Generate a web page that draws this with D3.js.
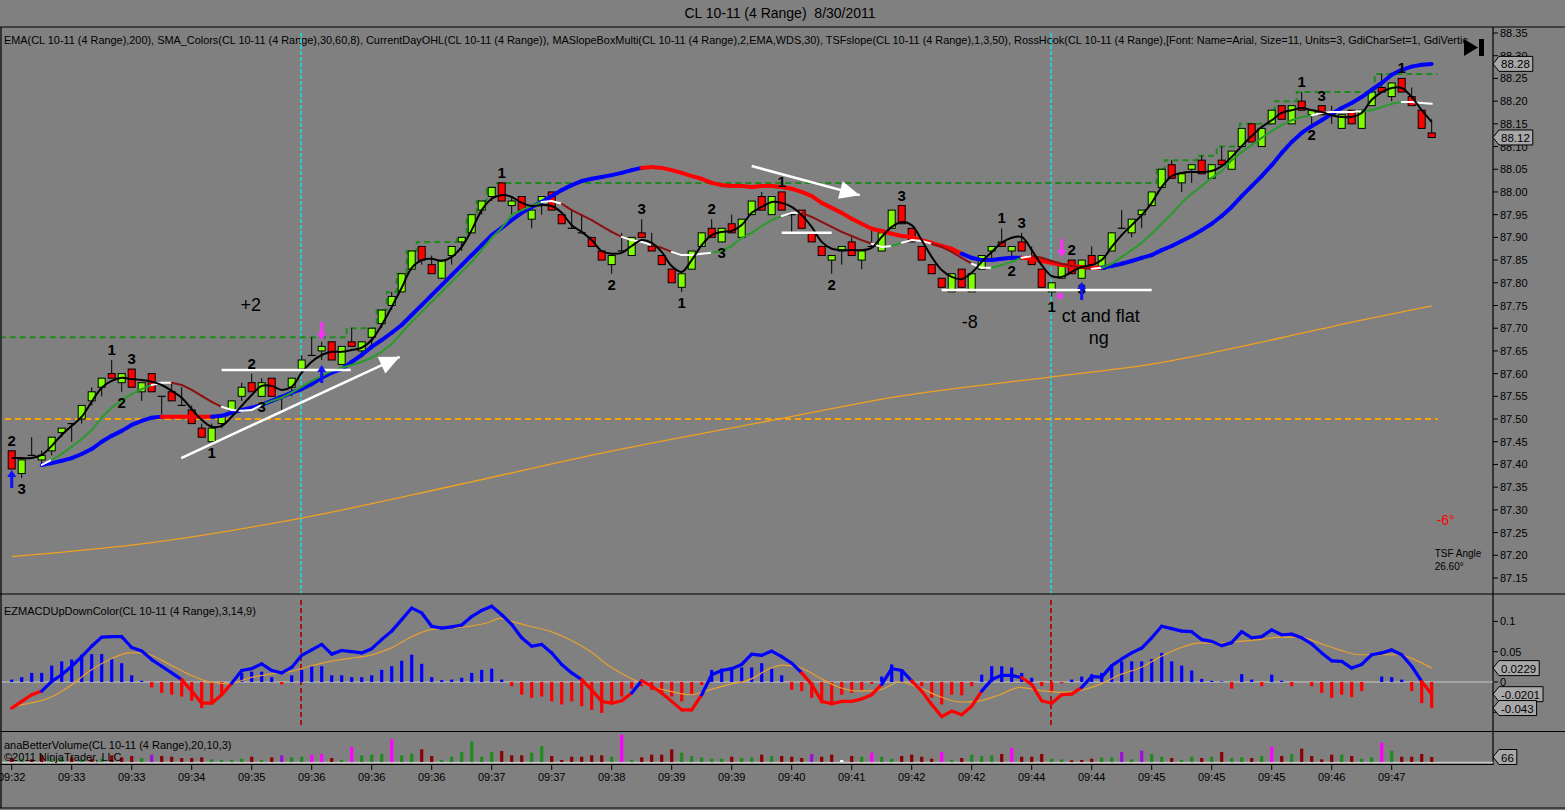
<!DOCTYPE html>
<html><head><meta charset="utf-8">
<script src="https://cdn.jsdelivr.net/npm/d3@7"></script>
<style>
body{margin:0;background:#808080;overflow:hidden}
svg{display:block}
text{font-family:"Liberation Sans",Arial,sans-serif}
</style></head>
<body><svg id="c" width="1565" height="810"></svg>
<script>
// ---------------- DATA ----------------
const open=[87.43,87.38,87.42,87.41,87.43,87.47,87.49,87.50,87.54,87.57,
87.60,87.58,87.61,87.56,87.60,87.55,87.56,87.53,87.52,87.48,
87.45,87.49,87.52,87.55,87.58,87.55,87.59,87.55,87.57,87.61,
87.64,87.65,87.67,87.62,87.67,87.65,87.68,87.71,87.75,87.78,
87.83,87.88,87.84,87.81,87.86,87.89,87.91,87.96,87.99,88.02,
87.97,87.99,87.94,87.98,88.00,87.95,87.92,87.91,87.90,87.87,
87.84,87.87,87.86,87.91,87.88,87.86,87.83,87.79,87.83,87.88,
87.92,87.89,87.93,87.90,87.95,87.99,87.95,88.00,87.95,87.96,
87.91,87.88,87.85,87.87,87.89,87.85,87.88,87.87,87.92,87.97,
87.92,87.88,87.84,87.81,87.78,87.83,87.78,87.83,87.87,87.89,
87.87,87.89,87.86,87.83,87.78,87.81,87.85,87.81,87.86,87.83,
87.87,87.92,87.91,87.95,87.97,88.01,88.06,88.02,88.05,88.07,
88.03,88.07,88.05,88.10,88.15,88.10,88.15,88.19,88.15,88.20,
88.17,88.19,88.17,88.14,88.18,88.14,88.19,88.23,88.21,88.25,
88.21,88.18,88.13];
const close=[87.39,87.41,87.42,87.42,87.46,87.48,87.49,87.53,87.56,87.59,
87.59,87.60,87.57,87.58,87.56,87.55,87.54,87.53,87.49,87.46,
87.48,87.51,87.54,87.57,87.56,87.58,87.55,87.55,87.59,87.63,
87.64,87.66,87.63,87.66,87.66,87.67,87.70,87.74,87.77,87.82,
87.87,87.85,87.82,87.85,87.88,87.90,87.95,87.98,88.01,87.98,
87.98,87.96,87.96,87.99,87.96,87.93,87.92,87.91,87.88,87.85,
87.86,87.87,87.90,87.90,87.87,87.84,87.80,87.82,87.87,87.91,
87.90,87.92,87.91,87.94,87.98,87.96,87.99,87.96,87.95,87.92,
87.89,87.86,87.86,87.88,87.86,87.87,87.88,87.91,87.96,87.93,
87.89,87.85,87.82,87.79,87.82,87.79,87.82,87.86,87.88,87.88,
87.88,87.87,87.84,87.79,87.80,87.84,87.82,87.85,87.84,87.86,
87.91,87.92,87.94,87.96,88.00,88.05,88.03,88.04,88.06,88.04,
88.06,88.06,88.09,88.14,88.11,88.14,88.18,88.16,88.19,88.18,
88.18,88.17,88.17,88.17,88.15,88.18,88.22,88.22,88.24,88.22,
88.19,88.14,88.12];
const high=[87.43,87.41,87.46,87.43,87.46,87.48,87.49,87.53,87.57,87.59,
87.63,87.60,87.61,87.58,87.60,87.55,87.58,87.57,87.53,87.49,
87.49,87.51,87.54,87.58,87.60,87.59,87.59,87.55,87.59,87.64,
87.68,87.67,87.67,87.66,87.70,87.67,87.70,87.74,87.78,87.82,
87.87,87.88,87.86,87.85,87.88,87.90,87.95,87.98,88.01,88.02,
87.99,87.99,87.96,87.99,88.00,87.95,87.96,87.95,87.90,87.87,
87.86,87.91,87.90,87.94,87.91,87.86,87.83,87.82,87.87,87.91,
87.94,87.92,87.95,87.94,87.98,88.00,87.99,88.00,87.95,87.96,
87.91,87.88,87.86,87.88,87.90,87.87,87.92,87.91,87.96,87.97,
87.92,87.88,87.84,87.81,87.82,87.83,87.82,87.86,87.88,87.92,
87.88,87.91,87.88,87.83,87.80,87.84,87.85,87.85,87.88,87.86,
87.91,87.96,87.94,87.96,88.00,88.05,88.07,88.04,88.06,88.08,
88.06,88.10,88.09,88.14,88.15,88.14,88.18,88.19,88.19,88.22,
88.18,88.19,88.19,88.17,88.18,88.18,88.22,88.26,88.24,88.25,
88.23,88.18,88.16];
const low=[87.39,87.37,87.42,87.40,87.42,87.46,87.45,87.49,87.53,87.55,
87.59,87.56,87.57,87.54,87.56,87.51,87.54,87.53,87.49,87.46,
87.45,87.48,87.51,87.54,87.56,87.55,87.55,87.52,87.55,87.60,
87.64,87.63,87.63,87.62,87.66,87.64,87.66,87.70,87.74,87.78,
87.83,87.84,87.82,87.81,87.84,87.87,87.91,87.95,87.98,87.98,
87.95,87.95,87.92,87.95,87.96,87.93,87.92,87.91,87.88,87.85,
87.82,87.87,87.86,87.90,87.87,87.84,87.80,87.78,87.83,87.88,
87.90,87.89,87.91,87.90,87.95,87.96,87.95,87.96,87.91,87.92,
87.89,87.86,87.82,87.84,87.86,87.83,87.88,87.87,87.92,87.93,
87.89,87.85,87.82,87.79,87.78,87.79,87.78,87.83,87.85,87.88,
87.85,87.87,87.84,87.79,87.77,87.81,87.82,87.81,87.84,87.83,
87.87,87.92,87.90,87.92,87.97,88.01,88.03,88.00,88.02,88.04,
88.03,88.06,88.05,88.10,88.11,88.10,88.15,88.16,88.15,88.18,
88.15,88.17,88.15,88.14,88.15,88.14,88.19,88.22,88.20,88.22,
88.19,88.14,88.12];

// black fast average (bar 0..142)
const fastMA=[87.414,87.414,87.414,87.421,87.441,87.465,87.485,87.505,87.538,87.569,
87.584,87.591,87.588,87.586,87.582,87.575,87.562,87.547,87.522,87.498,
87.483,87.485,87.505,87.529,87.553,87.573,87.573,87.564,87.571,87.602,
87.626,87.641,87.648,87.648,87.652,87.657,87.674,87.707,87.747,87.789,
87.833,87.850,87.853,87.848,87.857,87.879,87.916,87.960,87.985,87.993,
87.989,87.976,87.969,87.971,87.969,87.954,87.927,87.912,87.894,87.870,
87.864,87.866,87.881,87.894,87.888,87.868,87.837,87.824,87.850,87.883,
87.905,87.912,87.914,87.927,87.954,87.967,87.978,87.976,87.967,87.949,
87.923,87.890,87.875,87.872,87.872,87.872,87.877,87.901,87.923,87.934,
87.927,87.894,87.857,87.828,87.813,87.808,87.822,87.846,87.868,87.888,
87.899,87.901,87.872,87.839,87.815,87.813,87.824,87.835,87.839,87.850,
87.879,87.905,87.927,87.949,87.976,88.011,88.035,88.042,88.044,88.044,
88.046,88.057,88.077,88.101,88.123,88.143,88.158,88.174,88.180,88.185,
88.180,88.176,88.169,88.165,88.165,88.174,88.203,88.220,88.229,88.229,
88.209,88.180,88.154];

// SMA_Colors line, starts at bar 3
const midStart=3;
const midMA=[87.399,87.410,87.423,87.439,87.456,87.476,87.503,87.525,87.542,87.555,
87.566,87.575,87.580,87.580,87.575,87.564,87.551,87.538,87.527,87.520,
87.518,87.520,87.531,87.540,87.547,87.558,87.571,87.584,87.595,87.606,
87.613,87.619,87.626,87.635,87.648,87.665,87.690,87.714,87.736,87.758,
87.780,87.802,87.824,87.846,87.872,87.899,87.921,87.949,87.960,87.969,
87.978,87.980,87.974,87.960,87.949,87.938,87.925,87.912,87.901,87.894,
87.890,87.883,87.877,87.868,87.861,87.861,87.864,87.866,87.870,87.881,
87.899,87.910,87.925,87.938,87.947,87.954,87.954,87.945,87.934,87.923,
87.912,87.903,87.894,87.886,87.879,87.881,87.888,87.894,87.892,87.886,
87.879,87.868,87.855,87.842,87.833,87.833,87.839,87.846,87.855,87.859,
87.855,87.848,87.842,87.837,87.833,87.831,87.833,87.842,87.857,87.872,
87.888,87.908,87.930,87.952,87.976,87.996,88.013,88.031,88.046,88.070,
88.088,88.103,88.119,88.134,88.147,88.158,88.165,88.169,88.174,88.176,
88.176,88.176,88.178,88.180,88.187,88.194,88.198,88.198,88.196,88.194];
const midRuns=[[2,'w'],[10,'g'],[2,'w'],[5,'r'],[4,'w'],[28,'g'],[2,'w'],[6,'r'],[3,'w'],[2,'r'],
[4,'w'],[7,'g'],[2,'w'],[7,'r'],[2,'w'],[1,'g'],[3,'w'],[4,'r'],[2,'w'],[3,'g'],[1,'w'],[6,'r'],
[1,'w'],[21,'g'],[5,'w'],[4,'g'],[3,'w']];

// thick slope line, starts at bar 3
const slowStart=3;
const slowMA=[87.399,87.403,87.408,87.414,87.423,87.434,87.450,87.463,87.474,87.487,
87.496,87.503,87.505,87.505,87.505,87.505,87.505,87.505,87.507,87.514,
87.520,87.525,87.531,87.540,87.549,87.558,87.566,87.577,87.591,87.602,
87.610,87.626,87.641,87.659,87.674,87.690,87.707,87.729,87.751,87.773,
87.795,87.817,87.839,87.861,87.883,87.905,87.921,87.938,87.954,87.967,
87.978,87.991,88.004,88.015,88.024,88.029,88.033,88.037,88.042,88.048,
88.053,88.055,88.053,88.048,88.042,88.035,88.029,88.020,88.015,88.013,
88.013,88.011,88.013,88.013,88.011,88.007,88.000,87.991,87.976,87.965,
87.954,87.941,87.930,87.919,87.914,87.908,87.903,87.901,87.894,87.888,
87.881,87.875,87.864,87.855,87.850,87.850,87.853,87.855,87.855,87.853,
87.848,87.844,87.839,87.837,87.835,87.833,87.833,87.837,87.842,87.848,
87.855,87.861,87.872,87.881,87.892,87.903,87.916,87.930,87.947,87.967,
87.991,88.013,88.035,88.059,88.086,88.110,88.130,88.145,88.158,88.172,
88.185,88.196,88.209,88.225,88.240,88.258,88.269,88.276,88.280,88.282];
const slowRuns=[[13,'b'],[5,'r'],[43,'b'],[32,'r'],[6,'b'],[8,'r'],[33,'b']];

// EMA(200) read at a few bars
const emaBar=[0,14,29,44,59,76,89,104,114,127,135,142];
const emaVal=[87.197,87.228,87.282,87.352,87.425,87.497,87.551,87.593,87.621,87.679,87.718,87.749];

// CurrentDayOHL
const dayHighFrom=[-1.2,33.5,36.5,37.5,38.5,39.5,40.5,44.5,45.5,46.5,47.5,48.5,114.5,115.3,118.5,120.5,122.8,126.3,128.5,136.3];
const dayHighLevel=[87.68,87.70,87.74,87.78,87.82,87.87,87.89,87.90,87.95,87.98,88.01,88.02,88.05,88.07,88.08,88.10,88.15,88.20,88.22,88.26];
const dayHighEnd=142.6;
const dayLow=87.50;

// EZMACD
const macd=[-0.043,-0.032,-0.021,-0.015,0.001,0.012,0.026,0.042,0.059,0.074,
0.075,0.075,0.057,0.051,0.037,0.026,0.015,0.004,-0.015,-0.035,
-0.035,-0.021,-0.002,0.019,0.022,0.030,0.019,0.015,0.024,0.044,
0.053,0.062,0.046,0.052,0.050,0.048,0.055,0.070,0.084,0.103,
0.122,0.114,0.092,0.089,0.091,0.094,0.108,0.118,0.125,0.111,
0.095,0.073,0.059,0.062,0.048,0.029,0.015,0.004,-0.013,-0.032,
-0.035,-0.031,-0.018,0.002,-0.007,-0.018,-0.032,-0.046,-0.046,-0.021,
0.012,0.019,0.022,0.029,0.046,0.044,0.051,0.042,0.031,0.015,
-0.004,-0.032,-0.036,-0.032,-0.032,-0.028,-0.021,-0.004,0.022,0.019,
0.002,-0.015,-0.037,-0.057,-0.048,-0.054,-0.040,-0.015,0.004,0.011,
0.011,0.007,-0.004,-0.031,-0.035,-0.021,-0.020,-0.009,0.009,0.008,
0.027,0.038,0.048,0.056,0.073,0.092,0.088,0.084,0.083,0.070,
0.067,0.060,0.065,0.083,0.073,0.075,0.086,0.078,0.079,0.073,
0.063,0.048,0.035,0.034,0.023,0.029,0.045,0.048,0.053,0.045,
0.026,0.001,-0.0201];
const hist=[0.004,0.008,0.015,0.015,0.027,0.034,0.037,0.045,0.046,0.046,
0.038,0.031,0.011,0.002,-0.009,-0.018,-0.021,-0.024,-0.031,-0.043,
-0.032,-0.021,-0.004,0.015,0.017,0.017,0.008,-0.004,0.011,0.020,
0.026,0.026,0.011,0.011,0.008,0.008,0.011,0.020,0.026,0.035,
0.045,0.030,0.008,0.003,0.004,0.007,0.015,0.020,0.022,0.004,
-0.007,-0.021,-0.026,-0.024,-0.032,-0.037,-0.032,-0.040,-0.046,-0.051,
-0.035,-0.024,-0.011,-0.007,-0.013,-0.021,-0.024,-0.032,-0.020,-0.005,
0.020,0.022,0.024,0.024,0.024,0.031,0.022,0.011,-0.013,-0.015,
-0.026,-0.035,-0.037,-0.021,-0.018,-0.013,-0.003,0.009,0.029,0.018,
0.003,-0.007,-0.026,-0.037,-0.021,-0.022,-0.007,0.012,0.026,0.026,
0.024,0.015,0.007,-0.007,-0.015,-0.002,0.004,0.009,0.013,0.015,
0.027,0.034,0.034,0.034,0.038,0.048,0.034,0.027,0.019,0.005,
0.002,0.001,-0.011,0.013,0.004,-0.007,0.012,0.002,-0.007,0.000,
-0.007,-0.018,-0.026,-0.021,-0.025,-0.015,0.000,0.009,0.008,0.004,
-0.015,-0.035,-0.043];
const sigBar=[0,1.8,3.8,5.8,7.8,9.8,11.8,12.8,13.8,15.8,17.8,19.8,21.8,23.8,25.8,27.8,29.8,31.8,33.8,35.8,
37.8,39.8,41.8,43.8,45.8,47.8,48.8,49.8,51.8,53.8,55.8,57.8,59.8,61.8,63.8,65.8,67.8,69.8,71.8,73.8,
75.8,77,78.8,80.8,82.8,84.8,86.8,88.8,90.8,92.8,94.8,96.8,98.8,100.8,102.8,104.8,106.8,108.8,110.8,112.8,
114.8,116.8,118.8,120.8,122.8,124.8,126.8,128.8,130.8,132.8,134.8,136.8,138.8,140.3,142];
const sigVal=[-0.040,-0.035,-0.026,-0.007,0.018,0.037,0.048,0.048,0.045,0.029,0.012,0.000,-0.003,0.007,0.013,0.017,0.026,0.034,0.039,0.044,
0.055,0.073,0.086,0.089,0.092,0.099,0.105,0.101,0.092,0.084,0.070,0.051,0.026,0.007,-0.007,-0.015,-0.021,-0.013,-0.004,0.004,
0.022,0.028,0.024,0.007,-0.009,-0.015,-0.013,0.000,-0.010,-0.024,-0.033,-0.031,-0.021,-0.009,-0.014,-0.017,-0.014,-0.004,0.012,0.023,
0.041,0.056,0.064,0.064,0.067,0.070,0.074,0.074,0.064,0.053,0.045,0.045,0.045,0.037,0.0229];

// anaBetterVolume
const volume=[53,44,35,88,44,53,62,35,44,44,
88,62,79,53,97,79,70,53,53,62,
35,26,26,44,70,26,62,88,62,70,
97,106,53,26,198,88,97,106,299,88,
110,167,79,26,70,132,273,70,132,145,
88,88,123,211,79,26,70,70,88,88,
70,361,26,62,97,97,167,123,79,62,
44,44,70,53,62,97,79,79,70,53,
106,70,97,26,79,70,123,70,44,79,
97,70,44,132,26,53,97,79,88,106,
185,70,70,106,44,35,22,26,44,62,
62,132,35,150,106,70,53,26,70,53,
70,132,53,62,53,79,202,79,106,176,
79,35,97,97,79,44,62,255,150,70,
70,106,66];
const volType="rgrrggrgrgrr"+"rgprrrrrgg"+"ggrgrpggmm"+"rgmgggmggr"+"rggggggrrr"+"ggrrrrrrgm"+
"grrrrggggg"+"rggrgrrrpr"+"rwrgmggrrr"+"rmgrgggrmr"+"rrggrrrggp"+"gpggrggrgr"+"ggrgmrgrrr"+"rgrggmgrrr"+"r";

const timeLabels=['09:32','09:33','09:33','09:34','09:35','09:36','09:36','09:36','09:37','09:37','09:38','09:39',
'09:39','09:40','09:41','09:42','09:42','09:44','09:44','09:45','09:45','09:45','09:46','09:47'];
const timeEvery=6;
const priceTicks=[88.35,88.30,88.25,88.20,88.15,88.10,88.05,88.00,87.95,87.90,87.85,87.80,87.75,87.70,87.65,87.60,87.55,87.50,87.45,87.40,87.35,87.30,87.25,87.20,87.15];
const macdTicks=[0.1,0.05,0,-0.05];
const macdTickText=['0.1','0.05','0','-0.05'];

// RossHook swing labels: [bar, text, above/below]
const swings=[[0,'2','a'],[1,'3','b'],[10,'1','a'],[12,'3','a'],[11,'2','b'],[20,'1','b'],[24,'2','a'],[25,'3','b'],
[49,'1','a'],[60,'2','b'],[63,'3','a'],[67,'1','b'],[70,'2','a'],[71,'3','b'],[77,'1','a'],[82,'2','b'],[89,'3','a'],
[99,'1','a'],[101,'3','a'],[100,'2','b'],[104,'1','b'],[106,'2','a'],[107,'3','b'],[129,'1','a'],[131,'3','a'],[130,'2','b'],[139,'1','a']];
// signal arrows: [bar, tip price, kind]
const signalArrows=[[0,87.388,'up'],[31,87.619,'up'],[31,87.674,'down'],[105,87.857,'down'],[107,87.802,'up']];
// user drawn lines: [bar1, price1, bar2, price2, arrow]
const drawn=[[16.95,87.414,38.8,87.637,1],[21,87.608,33.9,87.608,0],[74,88.057,84.8,87.993,1],[77,87.910,82,87.910,0],[93,87.784,114,87.784,0]];
// user texts: [bar, price(baseline), text]
const notes=[[23.9,87.738,'+2'],[95.8,87.701,'-8'],[108.9,87.714,'ct and flat'],[108.7,87.665,'ng']];
const cursorBars=[29,104];

// ---------------- DRAW ----------------
const W=1565,H=810,AX=1493;
const svg=d3.select('#c');
svg.append('rect').attr('width',W).attr('height',H).attr('fill','#808080');

const x=d3.scaleLinear().domain([0,142]).range([11.7,1431.7]);
const yP=d3.scaleLinear().domain([87.15,88.35]).range([578,33]);
const yM=d3.scaleLinear().domain([-0.05,0.1]).range([712.3,621.4]);
const yV=d3.scaleLinear().domain([0,66]).range([762,757]);

const defs=svg.append('defs');
function clip(id,y0,y1){defs.append('clipPath').attr('id',id).append('rect').attr('x',2).attr('y',y0).attr('width',AX-2).attr('height',y1-y0);}
clip('cp',28,593);clip('cm',596,730);clip('cv',733,764);

// title
svg.append('text').attr('x',780).attr('y',18).attr('text-anchor','middle').attr('font-size',14).text('CL 10-11 (4 Range)\u00a0\u00a08/30/2011');

// frame
const frame=svg.append('g').attr('stroke','#000').attr('stroke-width',1.2);
[[0,27,W,27],[0,594,W,594],[0,731.5,W,731.5],[0,764.5,AX,764.5],[0,808,W,808],[1,27,1,808],[AX,27,AX,765]].forEach(l=>
 frame.append('line').attr('x1',l[0]).attr('y1',l[1]).attr('x2',l[2]).attr('y2',l[3]));

// ---------- price panel ----------
const gp=svg.append('g').attr('clip-path','url(#cp)');
gp.append('text').attr('x',4).attr('y',44).attr('font-size',10.9).text('EMA(CL 10-11 (4 Range),200), SMA_Colors(CL 10-11 (4 Range),30,60,8), CurrentDayOHL(CL 10-11 (4 Range)), MASlopeBoxMulti(CL 10-11 (4 Range),2,EMA,WDS,30), TSFslope(CL 10-11 (4 Range),1,3,50), RossHook(CL 10-11 (4 Range),[Font: Name=Arial, Size=11, Units=3, GdiCharSet=1, GdiVertic');

cursorBars.forEach(b=>gp.append('line').attr('x1',x(b)-0.7).attr('x2',x(b)-0.7).attr('y1',33).attr('y2',593)
 .attr('stroke','#2ec8d0').attr('stroke-width',2).attr('stroke-dasharray','4,2'));

gp.append('line').attr('x1',5).attr('x2',x(142.6)).attr('y1',yP(dayLow)).attr('y2',yP(dayLow))
 .attr('stroke','#ffa500').attr('stroke-width',2).attr('stroke-dasharray','6,4');

const stepPts=dayHighFrom.map((b,i)=>[b,dayHighLevel[i]]);stepPts.push([dayHighEnd,dayHighLevel[dayHighLevel.length-1]]);
gp.append('path').attr('d',d3.line().x(d=>x(d[0])).y(d=>yP(d[1])).curve(d3.curveStepAfter)(stepPts))
 .attr('fill','none').attr('stroke','#1e8a1e').attr('stroke-width',2).attr('stroke-dasharray','6,4');

gp.append('path').attr('d',d3.line().x((d,i)=>x(emaBar[i])).y(d=>yP(d)).curve(d3.curveMonotoneX)(emaVal))
 .attr('fill','none').attr('stroke','#f0a020').attr('stroke-width',1.3);

// candles
const bars=d3.range(open.length);
gp.append('g').selectAll('line').data(bars).join('line')
 .attr('x1',i=>x(i)).attr('x2',i=>x(i)).attr('y1',i=>yP(high[i])).attr('y2',i=>yP(low[i]))
 .attr('stroke','#000').attr('stroke-width',1);
const bodies=bars.filter(i=>open[i]!==close[i]);
gp.append('g').selectAll('rect').data(bodies).join('rect')
 .attr('x',i=>x(i)-3.5).attr('width',7)
 .attr('y',i=>yP(Math.max(open[i],close[i]))).attr('height',i=>Math.abs(yP(open[i])-yP(close[i])))
 .attr('fill',i=>close[i]>open[i]?'#80ff00':'#ff0000').attr('stroke','#000').attr('stroke-width',1);
gp.append('g').selectAll('line').data(bars.filter(i=>open[i]===close[i])).join('line')
 .attr('x1',i=>x(i)-4).attr('x2',i=>x(i)+4).attr('y1',i=>yP(open[i])).attr('y2',i=>yP(open[i]))
 .attr('stroke','#000').attr('stroke-width',1.2);

function expand(runs){let s='';runs.forEach(r=>s+=r[1].repeat(r[0]));return s;}
function segLine(g,vals,start,colors,cmap,w,ys){
 for(let k=0;k<vals.length-1;k++){
  g.append('line').attr('x1',x(start+k)).attr('y1',ys(vals[k])).attr('x2',x(start+k+1)).attr('y2',ys(vals[k+1]))
   .attr('stroke',cmap[colors[k+1]]).attr('stroke-width',w).attr('stroke-linecap','round');
 }
}
segLine(gp.append('g'),slowMA,slowStart,expand(slowRuns),{b:'#0000ff',r:'#ff0000'},4,yP);
segLine(gp.append('g'),midMA,midStart,expand(midRuns),{g:'#2a9a2a',r:'#8b1010',w:'#ffffff'},2,yP);
gp.append('path').attr('d',d3.line().x((d,i)=>x(i)).y(d=>yP(d)).curve(d3.curveCatmullRom)(fastMA))
 .attr('fill','none').attr('stroke','#000').attr('stroke-width',2);

// user drawn lines
drawn.forEach(d=>{
 const x1=x(d[0]),y1=yP(d[1]),x2=x(d[2]),y2=yP(d[3]);
 gp.append('line').attr('x1',x1).attr('y1',y1).attr('x2',x2).attr('y2',y2).attr('stroke','#fff').attr('stroke-width',2.5);
 if(d[4]){
  const a=Math.atan2(y2-y1,x2-x1),L=20,Wd=9;
  const bx=x2-L*Math.cos(a),by=y2-L*Math.sin(a);
  const px=-Math.sin(a)*Wd,py=Math.cos(a)*Wd;
  gp.append('path').attr('d',`M${x2},${y2}L${bx+px},${by+py}L${bx-px},${by-py}Z`).attr('fill','#fff');
 }
});

// swing labels
gp.append('g').selectAll('text').data(swings).join('text')
 .attr('x',d=>x(d[0])).attr('y',d=>d[2]==='a'?yP(high[d[0]])-5:yP(low[d[0]])+16)
 .attr('text-anchor','middle').attr('font-size',15).attr('font-weight','bold').text(d=>d[1]);

// signal arrows
signalArrows.forEach(d=>{
 const cx=x(d[0]),ty=yP(d[1]),s=d[2]==='up'?1:-1,col=d[2]==='up'?'#1010ff':'#ff30ff';
 gp.append('path').attr('d',`M${cx},${ty}L${cx-4.5},${ty+7*s}L${cx-1.5},${ty+7*s}L${cx-1.5},${ty+18*s}L${cx+1.5},${ty+18*s}L${cx+1.5},${ty+7*s}L${cx+4.5},${ty+7*s}Z`)
  .attr('fill',col);
});
gp.append('path').attr('d',`M${x(104.6)},${yP(87.78)}l7,4l-7,4Z`).attr('fill','#ff30ff');

// notes
gp.append('g').selectAll('text').data(notes).join('text')
 .attr('x',d=>x(d[0])).attr('y',d=>yP(d[1])).attr('text-anchor','middle').attr('font-size',18).text(d=>d[2]);
gp.append('text').attr('x',x(143.4)).attr('y',yP(87.267)).attr('text-anchor','middle').attr('font-size',14).attr('fill','#ff0000').text('-6°');
gp.append('text').attr('x',x(142.3)).attr('y',yP(87.197)).attr('font-size',10).text('TSF Angle');
gp.append('text').attr('x',x(142.3)).attr('y',yP(87.168)).attr('font-size',10).text('26.60°');
// end marker icon
gp.append('path').attr('d','M1464,39L1478,47.5L1464,56Z').attr('fill','#000');
gp.append('rect').attr('x',1479).attr('y',39).attr('width',5).attr('height',17).attr('fill','#000');

// price axis
const pa=svg.append('g');
priceTicks.forEach(p=>{
 pa.append('line').attr('x1',AX).attr('x2',AX+5).attr('y1',yP(p)).attr('y2',yP(p)).attr('stroke','#000');
 pa.append('text').attr('x',AX+7).attr('y',yP(p)+4).attr('font-size',11).text(p.toFixed(2));
});

function tag(y,txt){
 const g=svg.append('g');
 const t=g.append('text').attr('x',AX+8).attr('y',y+4.5).attr('font-size',11.5).text(txt);
 const w=t.node().getComputedTextLength()+5;
 g.insert('path','text').attr('d',`M${AX},${y}L${AX+6},${y-7.5}L${AX+6+w},${y-7.5}L${AX+6+w},${y+7.5}L${AX+6},${y+7.5}Z`)
  .attr('fill','#a8a8a8').attr('stroke','#000').attr('stroke-width',1);
}
tag(yP(slowMA[slowMA.length-1]),slowMA[slowMA.length-1].toFixed(2));
tag(yP(close[close.length-1]),close[close.length-1].toFixed(2));

// ---------- MACD panel ----------
const gm=svg.append('g').attr('clip-path','url(#cm)');
gm.append('text').attr('x',4).attr('y',615).attr('font-size',11).text('EZMACDUpDownColor(CL 10-11 (4 Range),3,14,9)');
gm.append('line').attr('x1',2).attr('x2',AX).attr('y1',yM(0)).attr('y2',yM(0)).attr('stroke','#c8c8c8').attr('stroke-width',1);
cursorBars.forEach(b=>gm.append('line').attr('x1',x(b)-0.7).attr('x2',x(b)-0.7).attr('y1',600).attr('y2',725)
 .attr('stroke','#a01818').attr('stroke-width',2).attr('stroke-dasharray','5,3'));
gm.append('g').selectAll('rect').data(bars).join('rect')
 .attr('x',i=>x(i)-1.6).attr('width',3.2)
 .attr('y',i=>Math.min(yM(0),yM(hist[i]))).attr('height',i=>Math.abs(yM(hist[i])-yM(0)))
 .attr('fill',i=>hist[i]>=0?'#0000ff':'#ff0000');
gm.append('path').attr('d',d3.line().x((d,i)=>x(sigBar[i])).y(d=>yM(d)).curve(d3.curveMonotoneX)(sigVal))
 .attr('fill','none').attr('stroke','#e8a030').attr('stroke-width',1.2);
const gml=gm.append('g');
for(let k=0;k<macd.length-1;k++){
 gml.append('line').attr('x1',x(k)).attr('y1',yM(macd[k])).attr('x2',x(k+1)).attr('y2',yM(macd[k+1]))
  .attr('stroke',macd[k+1]>=0?'#0000ff':'#ff0000').attr('stroke-width',3.2).attr('stroke-linecap','round');
}
macdTicks.forEach((v,i)=>{
 svg.append('line').attr('x1',AX).attr('x2',AX+5).attr('y1',yM(v)).attr('y2',yM(v)).attr('stroke','#000');
 svg.append('text').attr('x',AX+7).attr('y',yM(v)+4).attr('font-size',11).text(macdTickText[i]);
});
tag(yM(sigVal[sigVal.length-1]),'0.0229');
tag(yM(macd[macd.length-1]),'-0.0201');
tag(yM(hist[hist.length-1]),'-0.043');

// ---------- Volume panel ----------
const gv=svg.append('g').attr('clip-path','url(#cv)');
gv.append('line').attr('x1',2).attr('x2',AX).attr('y1',yV(0)+0.5).attr('y2',yV(0)+0.5).attr('stroke','#c8c8c8').attr('stroke-width',1.5);
const vcol={r:'#8b0000',g:'#1f8b1f',m:'#ff00ff',p:'#9a10d8',w:'#ffffff'};
gv.append('g').selectAll('rect').data(bars).join('rect')
 .attr('x',i=>x(i)-1.6).attr('width',3.2).attr('y',i=>yV(volume[i])).attr('height',i=>yV(0)-yV(volume[i]))
 .attr('fill',i=>vcol[volType[i]]);
gv.append('text').attr('x',4).attr('y',749).attr('font-size',11).text('anaBetterVolume(CL 10-11 (4 Range),20,10,3)');
gv.append('text').attr('x',4).attr('y',761).attr('font-size',11).text('©2011 NinjaTrader, LLC');
tag(yV(volume[volume.length-1]),String(volume[volume.length-1]));

// ---------- time axis ----------
timeLabels.forEach((t,k)=>{
 const xx=x(k*timeEvery);
 svg.append('line').attr('x1',xx).attr('x2',xx).attr('y1',765).attr('y2',770).attr('stroke','#000');
 svg.append('text').attr('x',xx).attr('y',781).attr('text-anchor','middle').attr('font-size',11).text(t);
});
</script></body></html>
